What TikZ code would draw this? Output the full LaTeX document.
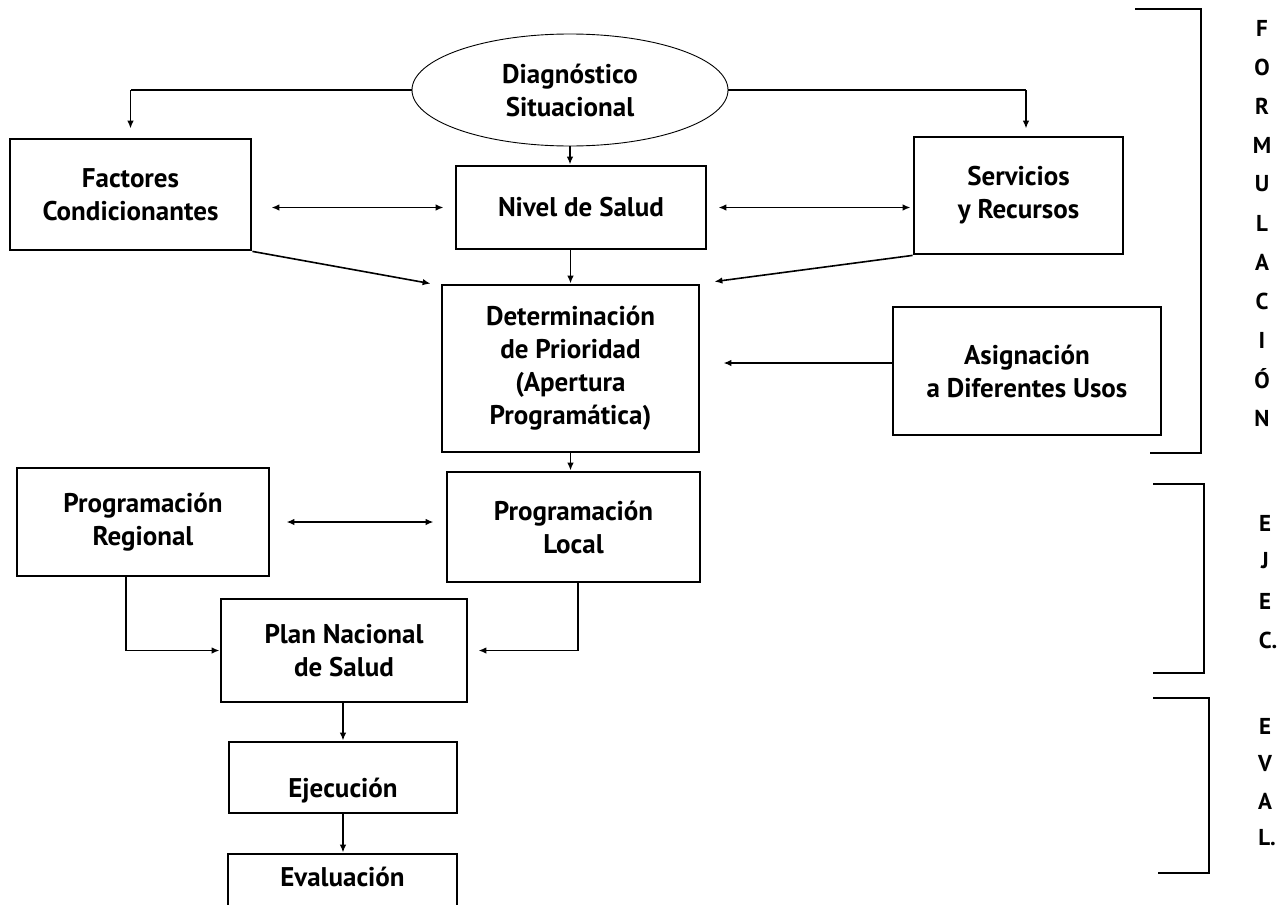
\documentclass[tikz,border=0pt]{standalone}
\usepackage{fontspec}
\setmainfont{PT Sans}
\usetikzlibrary{arrows.meta,shapes.geometric,calc}
\begin{document}
\begin{tikzpicture}[x=1pt,y=-1pt,
  box/.style={draw,line width=2.8pt,rectangle,align=center,font=\fontsize{27}{33}\selectfont\bfseries,inner sep=0pt},
  arr/.style={line width=1.6pt,-{Latex[length=8pt,width=6.5pt]}},
  darr/.style={line width=1.6pt,{Latex[length=8pt,width=6.5pt]}-{Latex[length=8pt,width=6.5pt]}},
  brk/.style={line width=1.9pt},
  letter/.style={font=\fontsize{23}{23}\selectfont\bfseries,inner sep=0pt}]
\clip (0,0) rectangle (1288,905);
\fill[white] (0,0) rectangle (1288,905);

% nodes
\node[draw,ellipse,line width=0.9pt,minimum width=316pt,minimum height=112pt,inner sep=0pt,align=center,font=\fontsize{27}{33}\selectfont\bfseries] (dia) at (570,90) {Diagnóstico\\Situacional};
\node[box,minimum width=241pt,minimum height=111pt] (fac) at (130.5,194.5) {Factores\\Condicionantes};
\node[box,minimum width=250pt,minimum height=83pt] (niv) at (581,207.5) {Nivel de Salud};
\node[box,minimum width=209pt,minimum height=117pt] (ser) at (1018.5,195.5) {Servicios\\y Recursos};
\node[box,minimum width=257pt,minimum height=167pt] (det) at (570.5,368.5) {Determinación\\de Prioridad\\(Apertura\\Programática)};
\node[box,minimum width=268pt,minimum height=128pt] (asi) at (1027,371) {Asignación\\a Diferentes Usos};
\node[box,minimum width=252pt,minimum height=108pt] (reg) at (143,522) {Programación\\Regional};
\node[box,minimum width=253pt,minimum height=110pt] (loc) at (573.5,527) {Programación\\Local};
\node[box,minimum width=246pt,minimum height=103pt] (pla) at (344,650.5) {Plan Nacional\\de Salud};
\node[box,minimum width=228pt,text height=55pt,text depth=16pt,anchor=base] (eje) at (343,797) {Ejecución};
\node[box,minimum width=229pt,text height=19pt,text depth=31pt,inner ysep=13pt,anchor=base] (eva) at (342.5,886) {Evaluación};

% connectors
\draw[line width=1.6pt] (dia.west) -- (dia.west -| fac.north);
\draw[arr] (dia.west -| fac.north) -- ([yshift=9pt]fac.north);
\draw[line width=1.6pt] (dia.east) -- ([xshift=7.5pt]dia.east -| ser.north);
\draw[arr] ([xshift=7.5pt]dia.east -| ser.north) -- ([xshift=7.5pt,yshift=7pt]ser.north);
\draw[arr] (dia.south) -- (dia.south |- niv.north);
\draw[darr,shorten <=19pt,shorten >=11pt] (fac.east |- niv.west) -- (niv.west);
\draw[darr,shorten <=11pt,shorten >=2pt] (niv.east) -- (niv.east -| ser.west);
\draw[arr] (fac.south east) -- ([xshift=-10pt]det.north west);
\draw[arr] (det.north |- niv.south) -- (det.north);
\draw[arr] (ser.south west) -- ([xshift=14pt,yshift=2pt]det.north east);
\draw[arr,shorten >=23pt] ([yshift=8pt]asi.west) -- ([yshift=8pt]asi.west -| det.east);
\draw[arr] (det.south) -- (det.south |- loc.north);
\draw[darr,shorten <=16pt,shorten >=12pt] (reg.east) -- (reg.east -| loc.west);
\draw[arr] ([xshift=-17pt]reg.south) |- (pla.west);
\draw[arr,shorten >=10pt] ([xshift=4.5pt]loc.south) |- (pla.east);
\draw[arr] (pla.south -| eje.north) -- (eje.north);
\draw[arr] (eje.south) -- (eje.south |- eva.north);

% brackets
\draw[brk] (1135,9) -- (1201,9) -- (1201,453) -- (1150,453);
\draw[brk] (1153,484) -- (1204,484) -- (1204,673) -- (1153,673);
\draw[brk] (1153,698) -- (1209,698) -- (1209,873) -- (1158,873);

% letters
\foreach \t [count=\i from 0] in {F,O,R,M,U,L,A,C,I,Ó,N}
  \node[letter] (f\i) at (1262,28+39*\i) {\t};
\node[letter] (e1) at (1265,523) {E};
\node[letter] (e2) at (1265,561) {J};
\node[letter] (e3) at (1265,601) {E};
\node[letter] (e4) at (1268,640) {C.};
\node[letter] (v1) at (1265,726) {E};
\node[letter] (v2) at (1265,763) {V};
\node[letter] (v3) at (1265,801) {A};
\node[letter] (v4) at (1267,838) {L.};
\end{tikzpicture}
\end{document}
